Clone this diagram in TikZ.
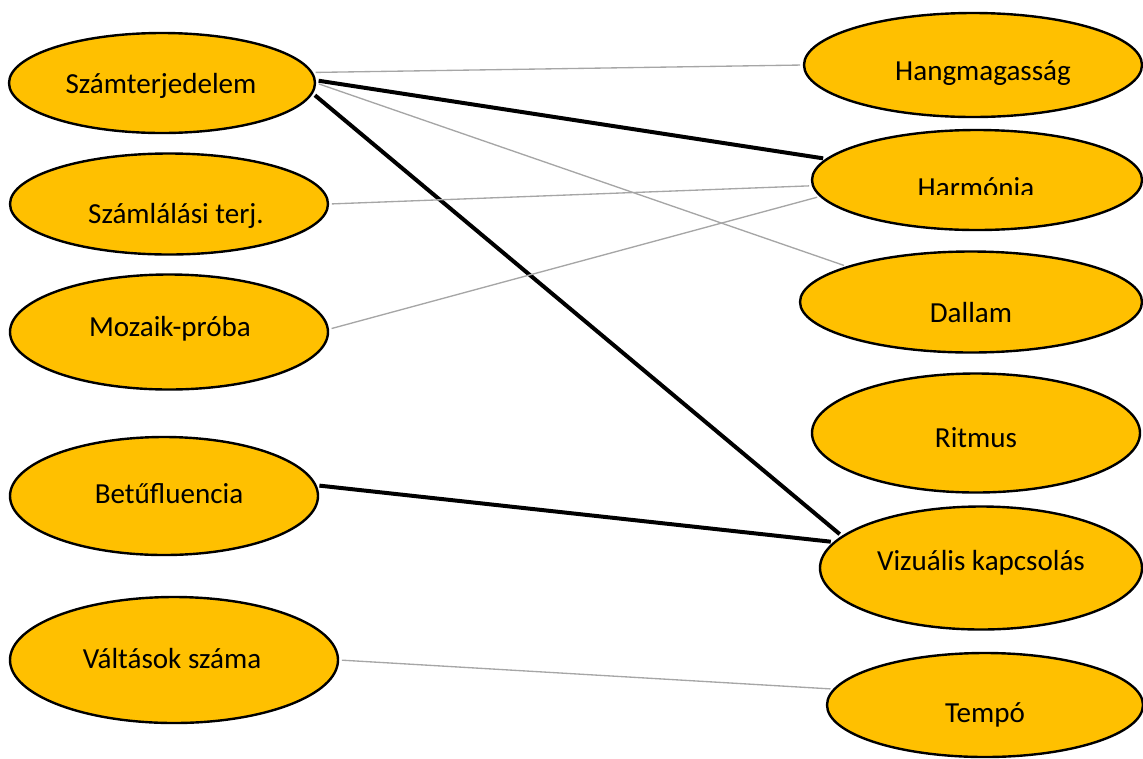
\documentclass[tikz,border=0pt]{standalone}
\usepackage{fontspec}
\setmainfont{Carlito}
\usetikzlibrary{shapes.geometric}
\definecolor{ellfill}{HTML}{FFC000}
\definecolor{thinline}{HTML}{A6A6A6}
\tikzset{
  oval/.style={ellipse, draw=black, line width=1.8pt, fill=ellfill, inner sep=0pt},
  lbl/.style={anchor=base, inner sep=0pt, font=\fontsize{21.8}{26}\selectfont},
  weak/.style={draw=thinline, line width=1pt, shorten <=2pt, shorten >=2pt},
  strong/.style={draw=black, line width=3pt, shorten <=2pt, shorten >=2pt},
}
\begin{document}
\begin{tikzpicture}[x=0.75pt,y=-0.75pt]
\useasboundingbox (0,0) rectangle (1143,758);
% left column
\node[oval, minimum width=229.5pt, minimum height=75pt] (szt) at (162,83) {};
\node[oval, minimum width=238.5pt, minimum height=75.75pt] (szl) at (169,204) {};
\node[oval, minimum width=238.5pt, minimum height=86.25pt] (moz) at (169,332) {};
\node[oval, minimum width=231pt, minimum height=88.5pt] (bet) at (164,496) {};
\node[oval, minimum width=246pt, minimum height=94.5pt] (val) at (174,660) {};
% right column
\node[oval, minimum width=253.5pt, minimum height=78pt] (hang) at (973,65) {};
\node[oval, minimum width=247.5pt, minimum height=75pt] (harm) at (977,180) {};
\node[oval, minimum width=256.5pt, minimum height=75.75pt] (dal) at (971,302) {};
\node[oval, minimum width=246pt, minimum height=89.25pt] (rit) at (976,433) {};
\node[oval, minimum width=241.5pt, minimum height=92.25pt] (viz) at (981,568) {};
\node[oval, minimum width=237pt, minimum height=78pt] (tem) at (985,705) {};
% labels
\node[lbl] (sztt) at (161,93) {Számterjedelem};
\node[lbl] (szlt) at (176,223) {Számlálási terj.};
\node[lbl] (mozt) at (170,336) {Mozaik-próba};
\node[lbl] (bett) at (169,503) {Betűfluencia};
\node[lbl] (valt) at (172,668) {Váltások száma};
\node[lbl] (hangt) at (983,80) {Hangmagasság};
\begin{scope}
  \clip (880,160) rectangle (1080,194);
  \node[lbl] (harmt) at (976,197) {Harmónia};
\end{scope}
\node[lbl] (dalt) at (971,322) {Dallam};
\node[lbl] (ritt) at (976,447) {Ritmus};
\node[lbl] (vizt) at (981,570) {Vizuális kapcsolás};
\node[lbl] (temt) at (985,722) {Tempó};
% connectors
\draw[weak] (szt.4) -- (hang.180);
\draw[strong] (szt.1.8) -- (harm.172.3);
\draw[weak] (szt.-0.7) -- (dal.164.7);
\draw[strong] (szt.-4.4) -- (viz.167.4);
\draw[weak] (szl.0) -- (harm.182.1);
\draw[weak] (moz.1.7) -- (harm.186.5);
\draw[strong] (bet.4.1) -- (viz.170.7);
\draw[weak] (val.0.7) -- (tem.174.3);
\end{tikzpicture}
\end{document}
